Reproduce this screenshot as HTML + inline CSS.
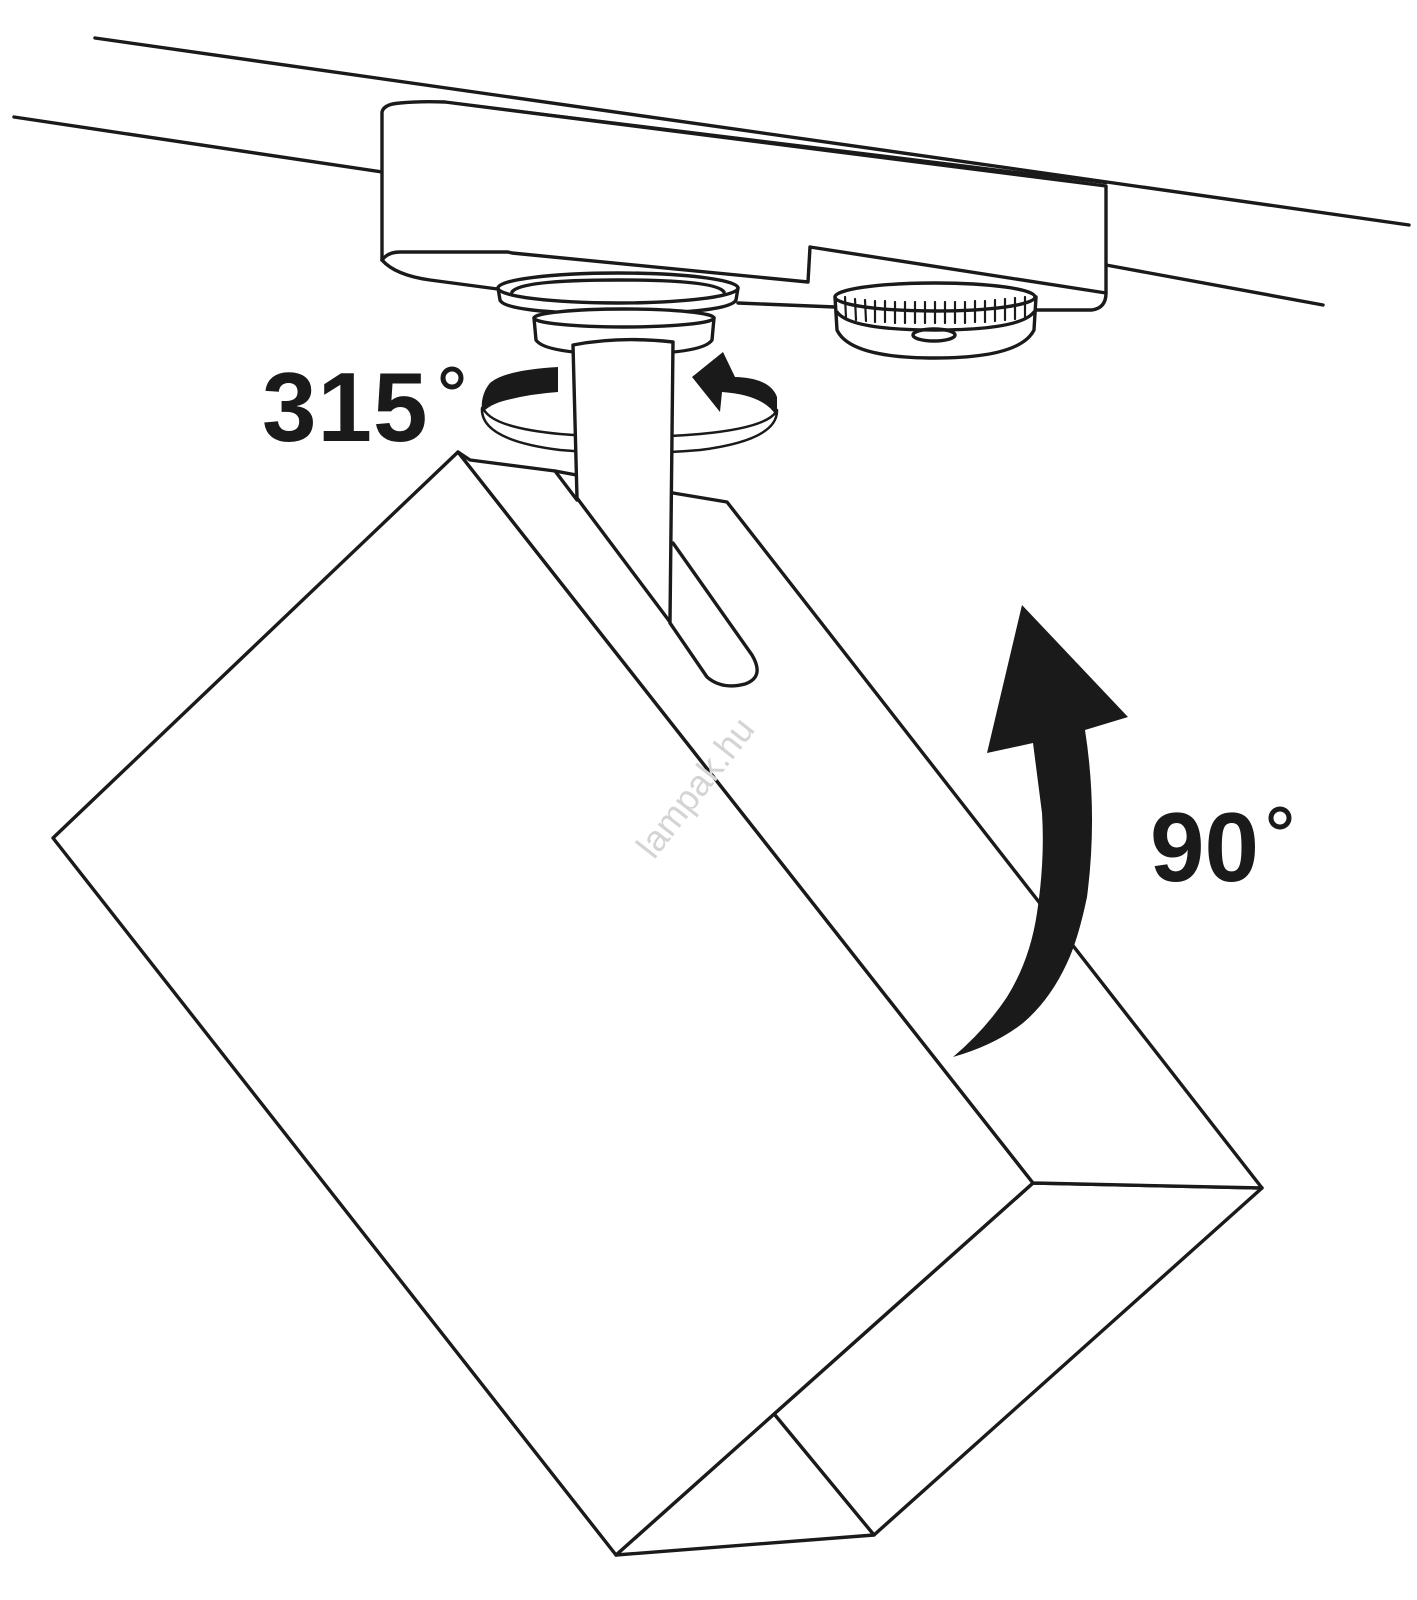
<!DOCTYPE html>
<html><head><meta charset="utf-8"><style>
html,body{margin:0;padding:0;background:#fff}
svg{display:block}
</style></head><body>
<svg width="1417" height="1600" viewBox="0 0 1417 1600" xmlns="http://www.w3.org/2000/svg" stroke-linejoin="round" stroke-linecap="round">
<g fill="none" stroke="#1a1a1a" stroke-width="3.4">
<line x1="95" y1="38" x2="1409" y2="225"/>
<line x1="14" y1="117" x2="382" y2="172"/>
<line x1="1106" y1="265" x2="1323" y2="305"/>
<path d="M382,260 L382,112 Q384,104 400,103 Q420,101 445,102 L1106,186 L1106,293 Q1106,308 1092,310 L1033,310" fill="#fff"/>
<path d="M445,102 L1106,183" stroke-width="2.5"/>
<path d="M382,260 Q388,252 400,252 L508,252 L512,253 L808,282 L810,247 L1106,293"/>
<path d="M382,260 Q395,275 430,280 L505,290"/>
<line x1="738" y1="303" x2="835" y2="307"/>
<path d="M498,288 L500,300 Q505,313 618,314 Q730,313 736,300 L738,288" fill="#fff"/>
<ellipse cx="618" cy="288" rx="120" ry="15" fill="#fff"/>
<path d="M512,292 Q520,280 618,280 Q716,280 724,292"/>
<path d="M534,318 L536,340 Q545,354 624,354 Q703,354 712,340 L714,318" fill="#fff"/>
<ellipse cx="624" cy="318" rx="90" ry="9" fill="#fff"/>
<path d="M835,297 L837,330 Q850,358 935,358 Q1020,358 1034,330 L1036,297" fill="#fff"/>
<ellipse cx="935" cy="297" rx="100" ry="14" fill="#fff"/>
<path d="M837,312 Q850,330 935,330 Q1020,330 1034,312"/>
<ellipse cx="934" cy="335" rx="21" ry="6"/>
</g>
<g stroke="#1a1a1a" stroke-width="2.2">
<line x1="845" y1="297" x2="846" y2="318"/><line x1="855" y1="299" x2="856" y2="320"/><line x1="865" y1="300" x2="866" y2="321"/><line x1="875" y1="301" x2="875" y2="322"/><line x1="885" y1="301" x2="885" y2="322"/><line x1="895" y1="302" x2="895" y2="323"/><line x1="905" y1="302" x2="905" y2="323"/><line x1="915" y1="302" x2="915" y2="323"/><line x1="925" y1="302" x2="925" y2="323"/><line x1="935" y1="302" x2="935" y2="323"/><line x1="945" y1="302" x2="945" y2="323"/><line x1="955" y1="302" x2="955" y2="323"/><line x1="965" y1="302" x2="965" y2="323"/><line x1="975" y1="301" x2="975" y2="322"/><line x1="985" y1="301" x2="985" y2="322"/><line x1="995" y1="300" x2="995" y2="321"/><line x1="1005" y1="299" x2="1005" y2="320"/><line x1="1015" y1="298" x2="1015" y2="319"/><line x1="1025" y1="297" x2="1025" y2="317"/>
</g>
<g fill="none" stroke="#1a1a1a" stroke-width="2.5">
<path d="M482,408 Q480,440 560,450 Q630,456 700,450 Q778,440 777,410"/>
<path d="M484,410 Q495,428 560,434 Q630,440 700,434 Q765,428 776,412"/>
</g>
<path d="M558,367 Q505,370 490,383 Q480,395 482,413 Q490,404 507,400 Q530,394 558,392 Z" fill="#1a1a1a"/>
<path d="M777,417 L777,397 Q770,378 735,377 L723,352 L692,377 L720,412 L722,392 Q765,395 777,417 Z" fill="#1a1a1a"/>
<g fill="#fff" stroke="#1a1a1a" stroke-width="3.4">
<polygon points="1033,1183 1262,1188 874,1535 616,1555"/>
<line x1="775" y1="1415" x2="874" y2="1535"/>
<polygon points="458,452 1033,1183 616,1555 53,838"/>
<polygon points="470,460 555,471 673,493 727,502 1262,1188 1033,1183 458,452"/>
<path d="M555,471 L577,500 M670,623 L707,677 Q722,690 745,684 Q765,677 752,655 L673,543" fill="none"/>
<path d="M573,345 Q620,336 673,342 L670,622 L577,498 Z"/>
</g>
<text x="0" y="0" transform="translate(705,795) rotate(-52)" text-anchor="middle" font-family="Liberation Sans, sans-serif" font-size="36" fill="#d4d4d4">lampak.hu</text>
<path d="M1022,605 L1128,717 L1085,730 Q1098,813 1087,897 Q1078,940 1067,963 Q1050,1000 1023,1023 Q995,1045 953,1057 Q985,1030 1007,997 Q1030,960 1037,913 Q1045,860 1042,813 L1033,743 L987,753 Z" fill="#1a1a1a"/>
<text x="262" y="441" font-family="Liberation Sans, sans-serif" font-weight="bold" font-size="98" fill="#1a1a1a" letter-spacing="1">315</text>
<circle cx="452" cy="378" r="9" fill="none" stroke="#1a1a1a" stroke-width="5"/>
<text x="1150" y="881" font-family="Liberation Sans, sans-serif" font-weight="bold" font-size="98" fill="#1a1a1a">90</text>
<circle cx="1280" cy="818" r="9" fill="none" stroke="#1a1a1a" stroke-width="5"/>
</svg>
</body></html>
